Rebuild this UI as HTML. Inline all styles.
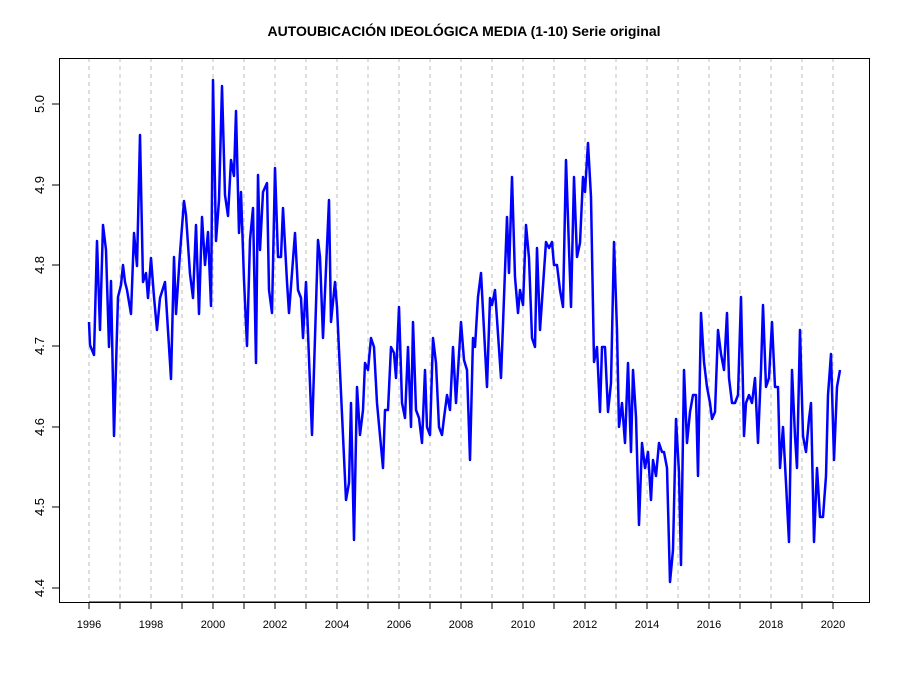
<!DOCTYPE html>
<html><head><meta charset="utf-8"><style>body{margin:0;background:#fff}svg{display:block}</style></head><body>
<svg width="900" height="675" xmlns="http://www.w3.org/2000/svg" font-family="Liberation Sans, Arial, sans-serif">
<rect width="900" height="675" fill="#fff"/>
<text x="464" y="36" text-anchor="middle" font-size="14" font-weight="bold">AUTOUBICACIÓN IDEOLÓGICA MEDIA (1-10) Serie original</text>
<g stroke="#bebebe" stroke-dasharray="4,4" stroke-width="1">
<line x1="89" y1="58" x2="89" y2="602"/><line x1="120" y1="58" x2="120" y2="602"/><line x1="151" y1="58" x2="151" y2="602"/><line x1="182" y1="58" x2="182" y2="602"/><line x1="213" y1="58" x2="213" y2="602"/><line x1="244" y1="58" x2="244" y2="602"/><line x1="275" y1="58" x2="275" y2="602"/><line x1="306" y1="58" x2="306" y2="602"/><line x1="337" y1="58" x2="337" y2="602"/><line x1="368" y1="58" x2="368" y2="602"/><line x1="399" y1="58" x2="399" y2="602"/><line x1="430" y1="58" x2="430" y2="602"/><line x1="461" y1="58" x2="461" y2="602"/><line x1="492" y1="58" x2="492" y2="602"/><line x1="523" y1="58" x2="523" y2="602"/><line x1="554" y1="58" x2="554" y2="602"/><line x1="585" y1="58" x2="585" y2="602"/><line x1="616" y1="58" x2="616" y2="602"/><line x1="647" y1="58" x2="647" y2="602"/><line x1="678" y1="58" x2="678" y2="602"/><line x1="709" y1="58" x2="709" y2="602"/><line x1="740" y1="58" x2="740" y2="602"/><line x1="771" y1="58" x2="771" y2="602"/><line x1="802" y1="58" x2="802" y2="602"/><line x1="833" y1="58" x2="833" y2="602"/>
</g>
<polyline fill="none" stroke="#0000ff" stroke-width="2.5" stroke-linejoin="round" points="89,322 90,345 94,355 97,241 100,330 103,225 106,250 109,347 111,281 114,436 118,297 121,285 123,265 125,282 127,290 131,314 134,233 137,266 140,135 143,282 146,273 148,298 151,258 154,297 157,330 160,298 165,282 171,379 174,257 176,314 180,253 184,201 186,215 190,274 193,298 196,225 199,314 202,217 205,265 208,232 211,306 213,80 216,241 219,200 222,86 225,195 228,216 231,160 234,176 236,111 239,233 241,192 244,280 247,346 250,240 253,208 256,363 258,175 260,250 263,192 267,183 269,290 272,313 275,168 278,257 281,257 283,208 287,282 289,313 295,233 298,290 301,298 303,338 306,282 312,435 318,240 320,257 323,338 329,200 331,322 335,282 337,307 346,500 349,483 351,403 354,540 357,387 360,435 363,410 365,363 368,370 371,338 374,347 377,403 383,468 385,410 388,410 391,347 394,353 396,378 399,307 402,403 405,418 408,347 411,427 413,322 416,410 419,418 422,443 425,370 427,427 430,435 433,338 436,363 439,427 442,435 444,418 447,395 450,410 453,347 456,403 461,322 464,360 467,370 470,460 473,338 475,347 478,297 481,273 487,387 490,298 492,305 495,290 501,378 507,217 509,273 512,177 515,277 518,313 520,290 523,305 526,225 529,258 532,338 535,347 537,248 540,330 546,242 549,248 552,242 554,265 557,265 560,290 563,307 566,160 571,307 574,177 577,257 580,243 583,177 585,192 588,143 591,197 594,362 597,347 600,412 602,347 605,347 608,412 611,383 614,242 617,330 619,427 622,403 625,443 628,363 631,452 633,370 636,417 639,525 642,443 645,468 648,452 651,500 653,460 656,476 659,443 662,452 664,452 667,468 670,582 673,550 676,419 679,473 681,565 684,370 687,443 690,412 693,395 696,395 698,476 701,313 704,362 707,387 710,403 712,419 715,412 718,330 721,354 724,370 727,313 729,378 732,403 735,403 738,395 741,297 744,436 746,403 749,395 752,403 755,378 758,443 761,370 763,305 766,387 769,378 772,322 775,387 778,387 780,468 783,427 786,483 789,542 792,370 795,436 797,468 800,330 803,436 806,452 809,419 811,403 814,542 817,468 820,517 823,517 826,476 828,395 831,354 834,460 837,387 840,370"/>
<rect x="59.5" y="58.5" width="810" height="544" fill="none" stroke="#000" stroke-width="1"/>
<g stroke="#000" stroke-width="1">
<line x1="89" y1="602" x2="833" y2="602"/>
<line x1="89" y1="602" x2="89" y2="609"/><line x1="120" y1="602" x2="120" y2="609"/><line x1="151" y1="602" x2="151" y2="609"/><line x1="182" y1="602" x2="182" y2="609"/><line x1="213" y1="602" x2="213" y2="609"/><line x1="244" y1="602" x2="244" y2="609"/><line x1="275" y1="602" x2="275" y2="609"/><line x1="306" y1="602" x2="306" y2="609"/><line x1="337" y1="602" x2="337" y2="609"/><line x1="368" y1="602" x2="368" y2="609"/><line x1="399" y1="602" x2="399" y2="609"/><line x1="430" y1="602" x2="430" y2="609"/><line x1="461" y1="602" x2="461" y2="609"/><line x1="492" y1="602" x2="492" y2="609"/><line x1="523" y1="602" x2="523" y2="609"/><line x1="554" y1="602" x2="554" y2="609"/><line x1="585" y1="602" x2="585" y2="609"/><line x1="616" y1="602" x2="616" y2="609"/><line x1="647" y1="602" x2="647" y2="609"/><line x1="678" y1="602" x2="678" y2="609"/><line x1="709" y1="602" x2="709" y2="609"/><line x1="740" y1="602" x2="740" y2="609"/><line x1="771" y1="602" x2="771" y2="609"/><line x1="802" y1="602" x2="802" y2="609"/><line x1="833" y1="602" x2="833" y2="609"/>
<line x1="59" y1="104" x2="52" y2="104"/><line x1="59" y1="185" x2="52" y2="185"/><line x1="59" y1="265" x2="52" y2="265"/><line x1="59" y1="346" x2="52" y2="346"/><line x1="59" y1="427" x2="52" y2="427"/><line x1="59" y1="507" x2="52" y2="507"/><line x1="59" y1="588" x2="52" y2="588"/>
</g>
<g font-size="11" text-anchor="middle">
<text x="89" y="628">1996</text><text x="151" y="628">1998</text><text x="213" y="628">2000</text><text x="275" y="628">2002</text><text x="337" y="628">2004</text><text x="399" y="628">2006</text><text x="461" y="628">2008</text><text x="523" y="628">2010</text><text x="585" y="628">2012</text><text x="647" y="628">2014</text><text x="709" y="628">2016</text><text x="771" y="628">2018</text><text x="833" y="628">2020</text>
</g>
<g font-size="13" text-anchor="middle">
<text transform="translate(44,104) rotate(-90)">5.0</text>
<text transform="translate(44,185) rotate(-90)">4.9</text>
<text transform="translate(44,265) rotate(-90)">4.8</text>
<text transform="translate(44,346) rotate(-90)">4.7</text>
<text transform="translate(44,427) rotate(-90)">4.6</text>
<text transform="translate(44,507) rotate(-90)">4.5</text>
<text transform="translate(44,588) rotate(-90)">4.4</text>
</g>
</svg>
</body></html>
